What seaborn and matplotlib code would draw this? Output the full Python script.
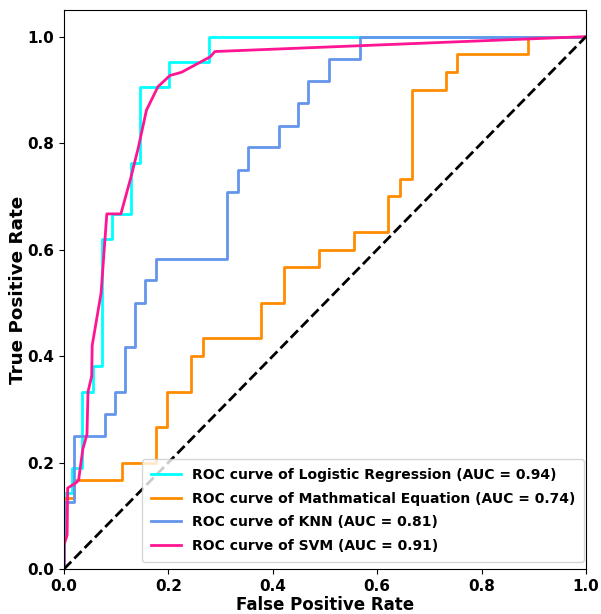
"""ROC curves for the four classifiers."""

import matplotlib
matplotlib.use("Agg")  # headless rendering
import matplotlib.pyplot as plt
import seaborn as sns

# corner points of each ROC curve (step curves are drawn with steps-pre)
lr_fpr = [0, 0.016, 0.034, 0.055, 0.073, 0.091, 0.129, 0.146, 0.202, 0.277, 1.0]
lr_tpr = [0, 0.143, 0.190, 0.333, 0.381, 0.619, 0.667, 0.762, 0.905, 0.952, 1.0]

me_fpr = [0, 0.02, 0.111, 0.176, 0.198, 0.243, 0.266, 0.377, 0.421, 0.489,
          0.555, 0.621, 0.643, 0.666, 0.732, 0.753, 0.889, 1.0]
me_tpr = [0, 0.133, 0.167, 0.2, 0.267, 0.333, 0.4, 0.433, 0.5, 0.567,
          0.6, 0.633, 0.7, 0.733, 0.9, 0.933, 0.967, 1.0]

knn_fpr = [0, 0.02, 0.078, 0.098, 0.116, 0.136, 0.156, 0.176, 0.313, 0.333,
           0.353, 0.412, 0.449, 0.468, 0.508, 0.567, 1.0]
knn_tpr = [0, 0.125, 0.25, 0.292, 0.333, 0.417, 0.5, 0.542, 0.583, 0.708,
           0.75, 0.792, 0.833, 0.875, 0.917, 0.958, 1.0]

svm_fpr = [0, 0, 0.006, 0.007, 0.023, 0.028, 0.036, 0.044, 0.046, 0.053, 0.054,
           0.071, 0.082, 0.109, 0.128, 0.142, 0.158, 0.18, 0.203, 0.225, 0.28,
           0.289, 1.0]
svm_tpr = [0, 0.045, 0.064, 0.152, 0.162, 0.167, 0.225, 0.253, 0.333, 0.362, 0.42,
           0.518, 0.667, 0.667, 0.735, 0.79, 0.862, 0.906, 0.927, 0.933, 0.962,
           0.972, 1.0]

names = ["Logistic Regression", "Mathmatical Equation", "KNN", "SVM"]
aucs = [0.94, 0.74, 0.81, 0.91]
colors = ["aqua", "darkorange", "cornflowerblue", "deeppink"]

fig = plt.figure(figsize=(6.01, 6.14), dpi=100)
ax = fig.add_axes([0.1065, 0.0733, 0.8685, 0.9104])

curves = [(lr_fpr, lr_tpr, "steps-pre"), (me_fpr, me_tpr, "steps-pre"),
          (knn_fpr, knn_tpr, "steps-pre"), (svm_fpr, svm_tpr, "default")]
for (fpr, tpr, ds), name, auc, c in zip(curves, names, aucs, colors):
    sns.lineplot(x=fpr, y=tpr, sort=False, estimator=None, ax=ax, color=c,
                 lw=2, drawstyle=ds,
                 label=f"ROC curve of {name} (AUC = {auc:0.2f})")

ax.plot([0, 1], [0, 1], "k--", lw=2)
ax.set_xlim(0.0, 1.0)
ax.set_ylim(0.0, 1.05)
ax.set_xticks([0.0, 0.2, 0.4, 0.6, 0.8, 1.0])
ax.set_yticks([0.0, 0.2, 0.4, 0.6, 0.8, 1.0])
for lab in ax.get_xticklabels() + ax.get_yticklabels():
    lab.set_fontsize(11)
    lab.set_fontweight("bold")
ax.set_xlabel("False Positive Rate", fontsize=12, fontweight="bold", labelpad=2)
ax.set_ylabel("True Positive Rate", fontsize=13.2, fontweight="bold", labelpad=0)
ax.legend(loc="lower right", bbox_to_anchor=(1.01, 0.0),
          prop={"weight": "bold", "size": 10}, labelspacing=0.7,
          handlelength=2.15, borderpad=0.65)

plt.savefig("out.png", dpi=100)
plt.close(fig)
